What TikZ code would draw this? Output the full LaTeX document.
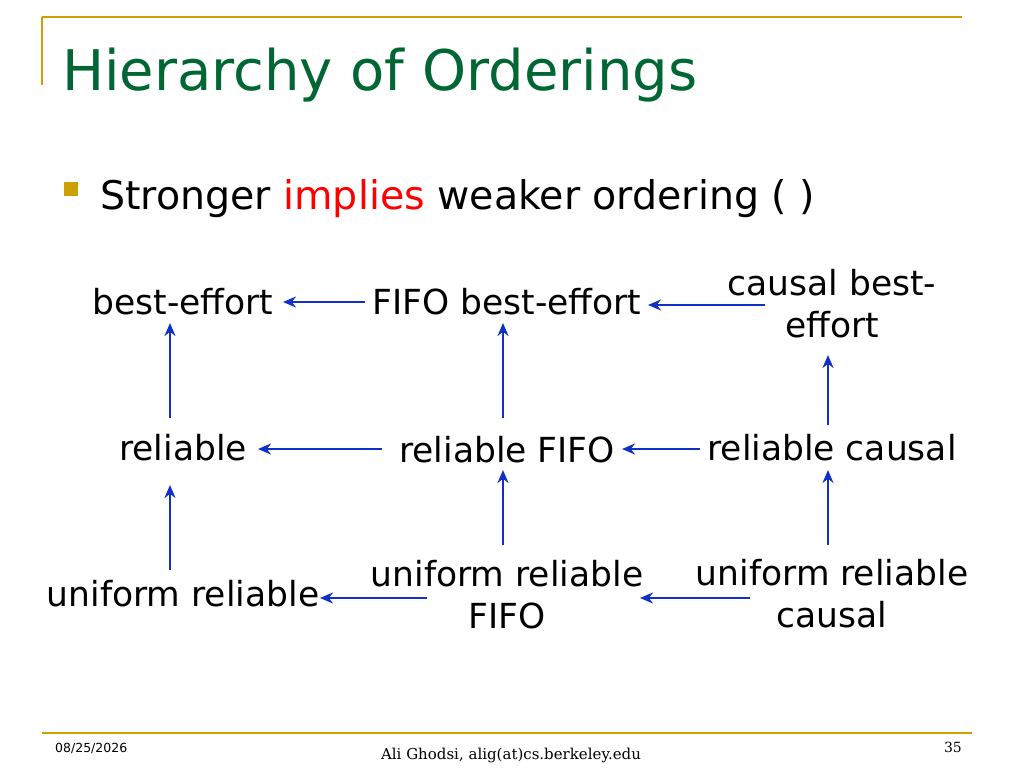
\documentclass[tikz,border=0pt]{standalone}
\usepackage{fontspec}
\setmainfont{DejaVu Sans}
\newfontfamily\serifft{DejaVu Serif}
\usetikzlibrary{arrows.meta}
\definecolor{gold}{RGB}{204,160,0}
\definecolor{tgreen}{RGB}{0,102,51}
\definecolor{ablue}{RGB}{16,48,200}
\begin{document}
\begin{tikzpicture}[x=1pt,y=-1pt,
  lbl/.style={font=\fontsize{34.5}{42}\selectfont,align=center,inner sep=0pt},
  arr/.style={draw=ablue,line width=2.6pt,-{Stealth[length=13pt,width=11pt]}}]
\useasboundingbox (0,0) rectangle (1024,768);
\draw[gold,line width=1.5pt] (42,17) -- (962,17);
\draw[gold,line width=1.5pt] (42,17) -- (42,85);
\draw[gold,line width=1.5pt] (42,733) -- (972,733);
\node[anchor=base west,text=tgreen,font=\fontsize{56}{62}\selectfont,inner sep=0pt] (title) at (62,90) {Hierarchy of Orderings};
\fill[gold] (64,182) rectangle (78,196);
\node[anchor=base west,font=\fontsize{39.5}{46}\selectfont,inner sep=0pt] (bul) at (100,209) {Stronger \textcolor{red}{implies} weaker ordering ( )};
\node[lbl] (be) at (183,302) {best-effort};
\node[lbl] (fbe) at (507,302) {FIFO best-effort};
\node[lbl] (cbe) at (832,304) {causal best-\\effort};
\node[lbl] (r) at (183,448) {reliable};
\node[lbl] (rf) at (507,450) {reliable FIFO};
\node[lbl] (rc) at (832,448) {reliable causal};
\node[lbl] (ur) at (183,594) {uniform reliable};
\node[lbl] (urf) at (507,595) {uniform reliable\\FIFO};
\node[lbl] (urc) at (832,594) {uniform reliable\\causal};
\coordinate (a1s) at (365,302); \coordinate (a1e) at (283,302);
\coordinate (a2s) at (765,305); \coordinate (a2e) at (648,305);
\coordinate (a3s) at (382,449); \coordinate (a3e) at (258,449);
\coordinate (a4s) at (700,449); \coordinate (a4e) at (622,449);
\coordinate (a5s) at (427,598); \coordinate (a5e) at (320,598);
\coordinate (a6s) at (750,598); \coordinate (a6e) at (640,598);
\coordinate (v1s) at (170,418); \coordinate (v1e) at (170,323);
\coordinate (v2s) at (503,418); \coordinate (v2e) at (503,323);
\coordinate (v3s) at (828,425); \coordinate (v3e) at (828,355);
\coordinate (v4s) at (170,570); \coordinate (v4e) at (170,485);
\coordinate (v5s) at (503,545); \coordinate (v5e) at (503,470);
\coordinate (v6s) at (828,545); \coordinate (v6e) at (828,470);
\foreach \a in {a1,a2,a3,a4,a5,a6,v1,v2,v3,v4,v5,v6}{\draw[arr] (\a s) -- (\a e);}
\node[anchor=base west,font=\fontsize{12.5}{14}\selectfont,inner sep=0pt] (date) at (55,752) {08/25/2026};
\node[anchor=base,font=\serifft\fontsize{15}{17}\selectfont,inner sep=0pt] (auth) at (511,759) {Ali Ghodsi, alig(at)cs.berkeley.edu};
\node[anchor=base east,font=\serifft\fontsize{14}{16}\selectfont,inner sep=0pt] (pg) at (962,752) {35};
\end{tikzpicture}
\end{document}
